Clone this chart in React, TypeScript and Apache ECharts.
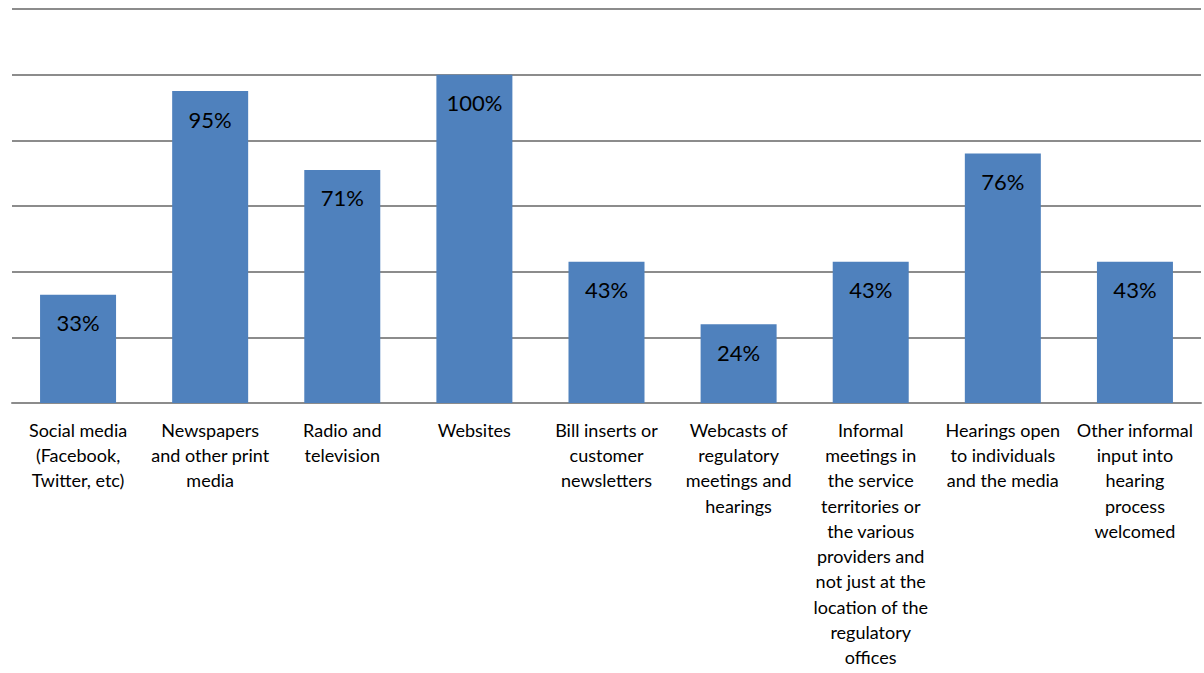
import React, { useEffect, useRef } from "react";
import * as echarts from "echarts";

const categories = [
  "Social media\n(Facebook,\nTwitter, etc)",
  "Newspapers\nand other print\nmedia",
  "Radio and\ntelevision",
  "Websites",
  "Bill inserts or\ncustomer\nnewsletters",
  "Webcasts of\nregulatory\nmeetings and\nhearings",
  "Informal\nmeetings in\nthe service\nterritories or\nthe various\nproviders and\nnot just at the\nlocation of the\nregulatory\noffices",
  "Hearings open\nto individuals\nand the media",
  "Other informal\ninput into\nhearing\nprocess\nwelcomed",
];
const values = [33, 95, 71, 100, 43, 24, 43, 76, 43];
const yMin = 0;
const yMax = 120;
const yInterval = 20;

const FONT = "Lato, 'Open Sans', sans-serif";

export default function App() {
  const ref = useRef<HTMLDivElement>(null);
  useEffect(() => {
    if (!ref.current) return;
    const chart = echarts.init(ref.current, undefined, { renderer: "svg" });
    chart.setOption({
      animation: false,
      backgroundColor: "#ffffff",
      grid: {
        left: 12,
        right: 3,
        top: 9,
        bottom: 270,
        containLabel: false,
        outerBoundsMode: "none",
      },
      xAxis: {
        type: "category",
        data: categories,
        axisLine: { show: true, lineStyle: { color: "#8c8c8c", width: 2 } },
        axisTick: { show: false },
        axisLabel: {
          interval: 0,
          margin: 14,
          fontFamily: FONT,
          fontSize: 18,
          lineHeight: 25.3,
          color: "#000000",
          align: "center",
        },
      },
      yAxis: {
        type: "value",
        min: yMin,
        max: yMax,
        interval: yInterval,
        axisLabel: { show: false },
        axisLine: { show: false },
        axisTick: { show: false },
        splitLine: { show: true, lineStyle: { color: "#8c8c8c", width: 2 } },
      },
      series: [
        {
          type: "bar",
          data: values,
          barWidth: 76,
          itemStyle: { color: "#4F81BD" },
          label: {
            show: true,
            position: "insideTop",
            distance: 17,
            formatter: "{c}%",
            fontFamily: FONT,
            fontSize: 22,
            color: "#000000",
          },
        },
      ],
    });
    return () => chart.dispose();
  }, []);
  return (
    <div
      ref={ref}
      style={{ position: "absolute", left: 0, top: 0, width: 1204, height: 673 }}
    />
  );
}
